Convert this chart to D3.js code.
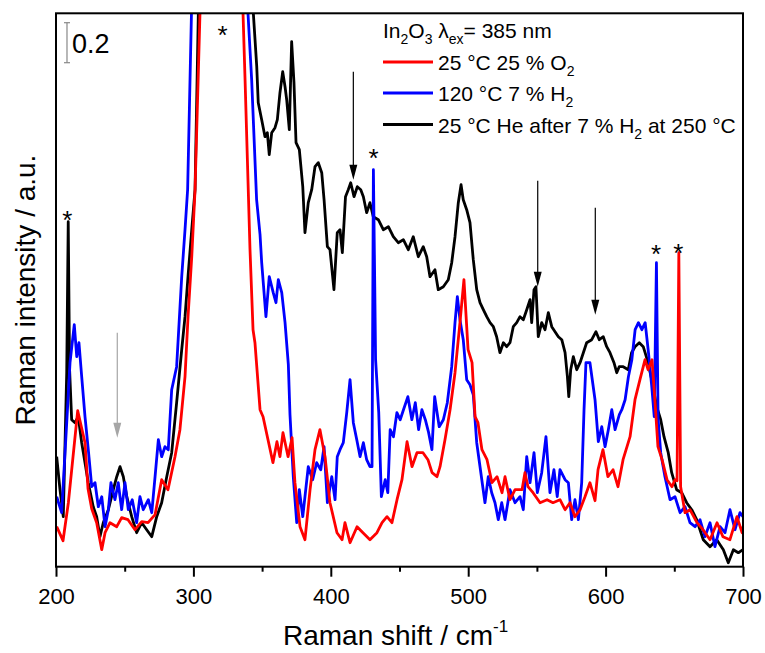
<!DOCTYPE html>
<html><head><meta charset="utf-8">
<script src="https://cdn.jsdelivr.net/npm/d3@7"></script>
<style>
html,body{margin:0;padding:0;background:#fff;}
text{font-family:"Liberation Sans",Arial,sans-serif;}
</style></head>
<body><svg id="c" width="765" height="653"></svg>
<script>
// ---- data (Raman shift in cm-1, intensity in a.u.) ----
const xTicks = [200, 300, 400, 500, 600, 700];
const xMinorTicks = [250, 350, 450, 550, 650];

const redSeries = [[200.5,0.20],[205.1,0.13],[209.0,0.32],[215.8,0.78],[221.1,0.62],[223.3,0.39],[226.0,0.29],[229.6,0.22],[233.3,0.085],[235.7,0.17],[239.3,0.22],[244.2,0.20],[247.8,0.245],[252.4,0.235],[257.5,0.185],[262.4,0.225],[267.0,0.22],[272.1,0.26],[276.9,0.435],[281.5,0.385],[286.6,0.55],[290.2,0.685],[293.9,0.95],[296.1,1.25],[298.8,1.55],[301.2,1.885],[304.8,2.77],[308.4,3.635],[322,6],[332.5,3.535],[336.1,2.77],[337.6,2.435],[341.2,1.585],[343.4,1.185],[344.8,1.12],[348.5,0.785],[350.7,0.75],[354.3,0.635],[357.9,0.52],[360.8,0.625],[363.0,0.55],[365.2,0.67],[368.9,0.55],[371.8,0.645],[373.9,0.42],[377.6,0.20],[381.2,0.135],[384.9,0.385],[388.5,0.585],[392.1,0.685],[395.8,0.55],[399.4,0.32],[404.5,0.17],[408.2,0.135],[410.3,0.22],[414.0,0.12],[419.1,0.20],[423.4,0.17],[428.5,0.135],[433.6,0.17],[437.3,0.22],[440.9,0.25],[444.5,0.22],[448.2,0.335],[451.8,0.435],[455.5,0.625],[459.1,0.50],[462.7,0.57],[467.1,0.57],[470.7,0.535],[473.7,0.47],[477.3,0.45],[479.5,0.50],[483.1,0.635],[486.8,0.785],[490.4,0.97],[494.0,1.22],[496.9,1.435],[499.9,1.085],[502.8,1.02],[505.0,0.75],[507.1,0.72],[510.0,0.585],[513.7,0.535],[517.3,0.42],[521.0,0.45],[524.6,0.37],[526.8,0.45],[530.4,0.335],[534.1,0.385],[539.2,0.385],[541.3,0.47],[543.5,0.40],[547.2,0.37],[552.3,0.32],[557.4,0.335],[561.7,0.32],[566.8,0.335],[570.5,0.285],[574.1,0.32],[577.7,0.25],[581.4,0.285],[585.0,0.35],[588.6,0.42],[592.3,0.33],[594.5,0.485],[598.1,0.585],[601.7,0.45],[605.4,0.485],[609.0,0.40],[612.7,0.535],[617.8,0.65],[621.4,0.835],[625.0,0.935],[628.7,1.035],[630.9,0.985],[633.8,1.035],[636.0,0.82],[638.1,0.60],[641.1,0.535],[644.7,0.435],[648.3,0.40],[650.5,0.435],[652.0,0.43],[653.3,1.57],[654.6,0.40],[657.8,0.27],[661.4,0.285],[666.5,0.22],[670.9,0.185],[676.0,0.135],[681.1,0.22],[685.4,0.15],[690.5,0.135],[695.6,0.25],[699.3,0.17],[700,0.2]];

const blueSeries = [[200.5,0.35],[204.1,0.27],[207.8,0.72],[210.2,1.02],[213.3,1.21],[215.1,1.05],[216.7,1.12],[218.7,0.95],[221.1,0.75],[223.5,0.585],[226.0,0.40],[228.4,0.42],[230.8,0.30],[233.3,0.35],[235.7,0.20],[238.1,0.285],[240.0,0.42],[242.9,0.335],[245.3,0.42],[247.8,0.285],[250.2,0.42],[252.6,0.285],[255.5,0.335],[258.7,0.22],[261.1,0.35],[263.5,0.285],[267.2,0.335],[269.7,0.27],[272.1,0.45],[274.5,0.635],[276.9,0.55],[279.3,0.60],[281.7,0.585],[284.2,0.885],[287.8,1.0],[291.5,1.45],[293.9,1.685],[295.8,1.885],[298.6,2.77],[302.6,3.52],[322,6],[335.4,3.415],[339.7,2.77],[342.4,2.435],[346.0,1.835],[348.5,1.66],[349.7,1.52],[352.8,1.25],[355.2,1.45],[358.1,1.37],[360.1,1.32],[361.8,1.435],[364.3,1.37],[366.7,1.22],[369.1,1.01],[370.3,0.76],[372.7,0.45],[375.2,0.22],[377.1,0.385],[379.6,0.25],[381.2,0.35],[383.6,0.50],[386.8,0.435],[389.7,0.52],[392.7,0.485],[395.1,0.60],[397.5,0.32],[400.7,0.45],[403.1,0.335],[404.7,0.55],[406.7,0.585],[409.1,0.62],[411.6,0.77],[414.0,0.935],[416.4,0.72],[418.9,0.635],[421.3,0.55],[423.7,0.62],[426.1,0.535],[428.5,0.50],[430.0,0.50],[431.0,1.985],[432.0,1.40],[432.6,1.035],[434.9,0.77],[436.8,0.35],[439.6,0.435],[441.5,0.37],[443.2,0.685],[445.6,0.65],[448.1,0.77],[450.5,0.735],[452.9,0.785],[456.1,0.85],[459.0,0.735],[461.5,0.82],[463.9,0.685],[466.3,0.785],[468.8,0.735],[471.2,0.67],[473.6,0.585],[475.6,0.85],[478.9,0.70],[481.9,0.735],[484.8,0.82],[488.0,1.0],[490.4,1.22],[492.1,1.35],[494.0,1.235],[496.4,1.135],[498.9,0.935],[501.3,0.91],[503.7,0.86],[506.2,0.62],[508.6,0.50],[512.2,0.32],[514.6,0.45],[517.1,0.37],[519.5,0.32],[521.9,0.235],[524.4,0.32],[526.8,0.235],[530.4,0.385],[534.1,0.32],[537.7,0.35],[540.1,0.285],[542.6,0.55],[545.0,0.42],[547.9,0.57],[550.3,0.37],[553.5,0.47],[556.6,0.65],[559.5,0.37],[562.4,0.485],[564.8,0.35],[566.8,0.485],[570.5,0.435],[572.9,0.42],[575.3,0.235],[577.7,0.335],[580.2,0.235],[582.6,0.42],[584.3,0.785],[585.7,1.02],[588.6,1.02],[590.6,0.92],[592.3,0.835],[594.7,0.625],[597.2,0.70],[599.6,0.60],[602.0,0.685],[604.5,0.785],[606.9,0.685],[610.0,0.76],[611.8,0.785],[614.2,0.835],[616.6,0.95],[619.1,1.035],[621.5,1.185],[623.9,1.22],[626.4,1.185],[628.8,1.22],[631.2,1.07],[633.6,0.90],[635.4,0.75],[637.0,1.52],[638.2,0.74],[640.1,0.57],[643.2,0.45],[646.9,0.335],[650.5,0.35],[654.2,0.27],[657.8,0.30],[661.4,0.22],[665.1,0.20],[668.7,0.235],[672.3,0.15],[676.0,0.22],[679.6,0.10],[683.3,0.20],[686.9,0.17],[690.5,0.285],[694.2,0.185],[697.8,0.27],[700,0.25]];

const blackSeries = [[200.5,0.55],[202.9,0.385],[205.3,0.25],[207.8,0.97],[208.9,1.725],[209.9,0.985],[211.4,0.735],[213.8,0.72],[216.2,0.75],[218.7,0.62],[221.1,0.52],[223.5,0.42],[227.1,0.30],[229.6,0.25],[232.0,0.15],[234.4,0.22],[238.1,0.285],[241.7,0.385],[244.2,0.45],[246.6,0.50],[249.0,0.45],[251.5,0.35],[255.1,0.25],[258.7,0.17],[262.4,0.22],[266.0,0.185],[269.7,0.15],[273.3,0.25],[276.9,0.32],[280.6,0.45],[284.2,0.57],[287.8,0.82],[291.5,1.085],[293.9,1.25],[296.3,1.47],[298.8,1.685],[301.2,1.885],[303.6,2.77],[307.0,3.585],[322,6],[341.2,3.435],[343.6,2.77],[346.1,2.50],[347.2,2.32],[349.7,2.235],[352.1,2.15],[353.8,2.17],[355.2,2.06],[357.0,2.17],[359.4,2.195],[361.1,2.235],[363.0,2.37],[365.0,2.475],[366.7,2.40],[367.9,2.335],[369.8,2.185],[371.5,2.625],[373.2,2.42],[374.7,2.12],[377.1,2.085],[379.6,1.90],[381.2,1.67],[383.6,1.82],[386.1,1.885],[388.5,2.0],[390.9,2.02],[393.4,1.97],[395.1,1.835],[397.5,1.60],[399.4,1.585],[402.3,1.385],[404.7,1.67],[406.7,1.685],[408.4,1.57],[410.7,1.85],[412.7,1.885],[414.5,1.92],[416.9,1.85],[419.3,1.90],[421.8,1.885],[423.7,1.85],[426.1,1.77],[428.5,1.82],[430.9,1.75],[434.6,1.735],[438.2,1.685],[441.9,1.70],[445.5,1.65],[449.1,1.62],[452.8,1.635],[456.4,1.585],[460.0,1.65],[463.7,1.55],[467.3,1.60],[469.8,1.55],[472.2,1.45],[475.8,1.485],[478.2,1.385],[481.9,1.40],[485.5,1.435],[488.0,1.52],[490.4,1.65],[492.8,1.82],[494.8,1.91],[496.4,1.835],[498.9,1.785],[501.3,1.72],[503.7,1.535],[506.2,1.385],[508.6,1.32],[511.0,1.285],[513.5,1.25],[515.9,1.22],[518.3,1.20],[520.7,1.15],[523.1,1.07],[525.6,1.12],[528.0,1.10],[530.4,1.12],[532.8,1.20],[535.3,1.22],[537.7,1.25],[540.1,1.235],[542.6,1.285],[545.0,1.335],[546.2,1.22],[547.9,1.385],[549.3,1.40],[551.0,1.15],[553.5,1.22],[555.9,1.185],[558.3,1.27],[560.8,1.20],[563.2,1.175],[565.6,1.15],[568.1,1.135],[570.5,1.07],[572.2,0.95],[573.2,0.85],[574.6,0.985],[576.5,1.05],[579.0,0.985],[581.4,1.02],[583.8,1.07],[586.2,1.12],[589.9,1.135],[593.0,1.175],[595.4,1.135],[598.3,1.15],[600.8,1.10],[603.2,1.07],[606.1,1.02],[608.1,0.97],[609.9,1.0],[612.8,1.0],[616.5,0.985],[618.9,1.07],[621.4,1.10],[624.5,1.12],[627.4,1.10],[630.3,1.035],[633.6,0.935],[637.2,0.80],[640.1,0.735],[642.5,0.65],[645.6,0.57],[648.1,0.47],[651.7,0.385],[655.4,0.37],[659.0,0.32],[662.7,0.285],[666.3,0.235],[671.1,0.135],[676.0,0.10],[680.9,0.135],[685.7,0.085],[689.3,0.02],[693.0,0.085],[696.6,0.07],[700,0.085]];

// annotation data
const arrowShift = [244.6, 416.4, 550.6, 592.5];
const arrowFrom = [1.17, 2.475, 1.93, 1.795];
const arrowTo = [0.645, 1.935, 1.40, 1.26];
const arrowColor = ["#a6a6a6", "#000", "#000", "#000"];
const starShift = [208.2, 321.3, 431.1, 636.7, 652.9];
const starLevel = [1.765, 2.69, 2.075, 1.595, 1.60];
const scaleBar = {shift: 208.0, from: 2.52, to: 2.72, label: "0.2"};

const series = [
  {name: "black", data: blackSeries, color: "#000000"},
  {name: "blue", data: blueSeries, color: "#0000ff"},
  {name: "red", data: redSeries, color: "#ff0000"}
];

// ---- chart ----
const svg = d3.select("#c");
const L = 56, R = 743, T = 13.3, B = 566.7;
const x = d3.scaleLinear().domain([200, 700]).range([L, R]);
const y = d3.scaleLinear().domain([0, 2.767]).range([B, T]);

svg.append("defs").append("clipPath").attr("id", "clip")
  .append("rect").attr("x", L).attr("y", T).attr("width", R - L).attr("height", B - T);

const line = d3.line().x(d => x(d[0])).y(d => y(d[1]));
const plot = svg.append("g").attr("clip-path", "url(#clip)");
series.forEach(s => {
  plot.append("path").datum(s.data).attr("d", line)
    .attr("fill", "none").attr("stroke", s.color)
    .attr("stroke-width", 2.8).attr("stroke-linejoin", "round");
});

// frame
svg.append("rect").attr("x", L).attr("y", T).attr("width", R - L).attr("height", B - T)
  .attr("fill", "none").attr("stroke", "#000").attr("stroke-width", 2);

// axis
const ax = svg.append("g").attr("transform", `translate(0,${B})`)
  .call(d3.axisBottom(x).tickValues(xTicks).tickSize(10).tickPadding(12).tickFormat(d3.format("d")));
ax.select(".domain").remove();
ax.selectAll(".tick line").attr("stroke-width", 2);
ax.selectAll(".tick text").attr("font-size", 22).attr("fill", "#000")
  .style("font-family", '"Liberation Sans", Arial, sans-serif');
const axm = svg.append("g").attr("transform", `translate(0,${B})`)
  .call(d3.axisBottom(x).tickValues(xMinorTicks).tickSize(5).tickFormat(""));
axm.select(".domain").remove();
axm.selectAll(".tick line").attr("stroke-width", 2);

// axis titles
const xt = svg.append("text").attr("x", 283).attr("y", 645).attr("font-size", 28).attr("fill", "#000");
xt.append("tspan").text("Raman shift / cm");
xt.append("tspan").attr("font-size", 17).attr("dy", -13).text("-1");

svg.append("text").attr("transform", "translate(35,290) rotate(-90)")
  .attr("text-anchor", "middle").attr("font-size", 28).attr("fill", "#000")
  .text("Raman intensity / a.u.");

// scale bar
const sb = svg.append("g").attr("stroke", "#888").attr("stroke-width", 1.2);
sb.append("line").attr("x1", x(scaleBar.shift)).attr("x2", x(scaleBar.shift))
  .attr("y1", y(scaleBar.from)).attr("y2", y(scaleBar.to));
[scaleBar.from, scaleBar.to].forEach(v => sb.append("line")
  .attr("x1", x(scaleBar.shift) - 3).attr("x2", x(scaleBar.shift) + 3)
  .attr("y1", y(v)).attr("y2", y(v)));
svg.append("text").attr("x", x(scaleBar.shift) + 5).attr("y", y((scaleBar.from + scaleBar.to) / 2) + 10)
  .attr("font-size", 27).attr("fill", "#000").text(scaleBar.label);

// arrows
arrowShift.forEach((s, i) => {
  const xp = x(s), y0 = y(arrowFrom[i]), y1 = y(arrowTo[i]);
  svg.append("line").attr("x1", xp).attr("x2", xp).attr("y1", y0).attr("y2", y1 - 12)
    .attr("stroke", arrowColor[i]).attr("stroke-width", 1.2);
  svg.append("path").attr("d", `M${xp - 4},${y1 - 15}L${xp + 4},${y1 - 15}L${xp},${y1}Z`)
    .attr("fill", arrowColor[i]);
});

// asterisks
starShift.forEach((s, i) => {
  svg.append("text").attr("x", x(s)).attr("y", y(starLevel[i]) + 15)
    .attr("text-anchor", "middle").attr("font-size", 26).attr("fill", "#000").text("*");
});

// legend
const lg = svg.append("g").attr("font-size", 21).attr("fill", "#000");
const t0 = lg.append("text").attr("x", 383).attr("y", 38);
t0.append("tspan").text("In");
t0.append("tspan").attr("font-size", 14).attr("dy", 6).text("2");
t0.append("tspan").attr("dy", -6).text("O");
t0.append("tspan").attr("font-size", 14).attr("dy", 6).text("3");
t0.append("tspan").attr("dy", -6).text(" λ");
t0.append("tspan").attr("font-size", 14).attr("dy", 6).text("ex");
t0.append("tspan").attr("dy", -6).text("= 385 nm");

const legendRows = [
  {color: "#ff0000", y: 62, parts: [["25 °C 25 % O", false], ["2", true]]},
  {color: "#0000ff", y: 93, parts: [["120 °C 7 % H", false], ["2", true]]},
  {color: "#000000", y: 124.5, parts: [["25 °C He after 7 % H", false], ["2", true], [" at 250 °C", false]]}
];
legendRows.forEach(r => {
  lg.append("line").attr("x1", 383).attr("x2", 433).attr("y1", r.y).attr("y2", r.y)
    .attr("stroke", r.color).attr("stroke-width", 3);
  const t = lg.append("text").attr("x", 438).attr("y", r.y + 8);
  let sub = false;
  r.parts.forEach(p => {
    const ts = t.append("tspan").text(p[0]);
    if (p[1]) { ts.attr("font-size", 14).attr("dy", 6); sub = true; }
    else if (sub) { ts.attr("dy", -6); sub = false; }
  });
});
</script></body></html>
